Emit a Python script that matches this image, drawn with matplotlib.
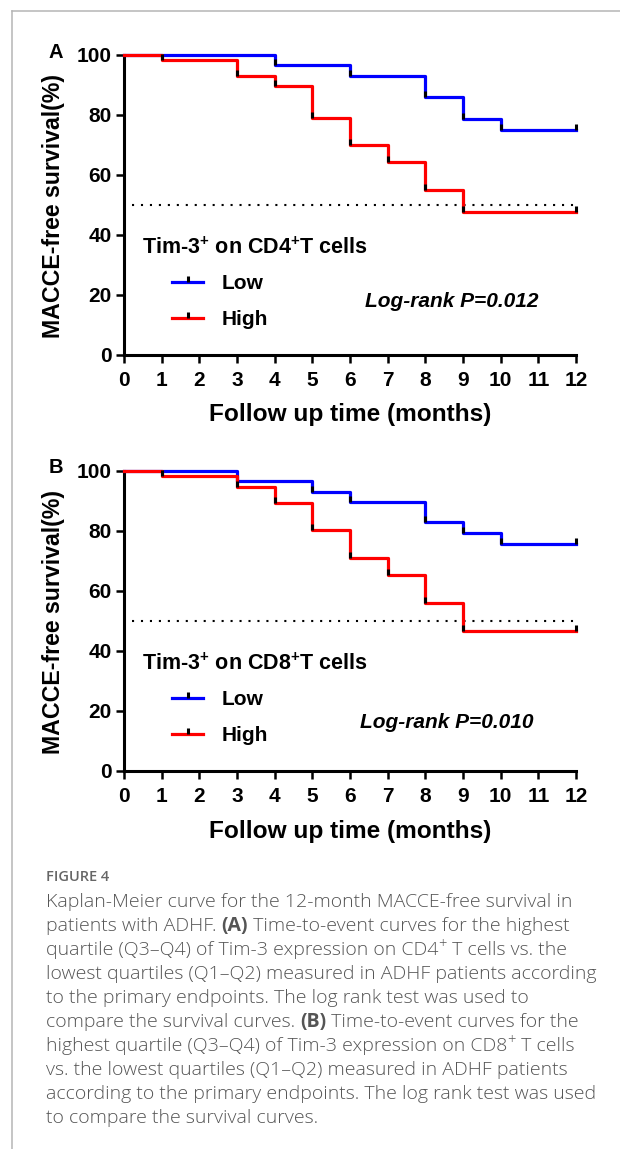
import matplotlib
matplotlib.use("Agg")
import matplotlib.pyplot as plt
from matplotlib.lines import Line2D

plt.rcParams['font.family'] = ['Liberation Sans', 'DejaVu Sans']
plt.rcParams['font.weight'] = 'bold'
plt.rcParams['mathtext.fontset'] = 'custom'
plt.rcParams['mathtext.rm'] = 'Liberation Sans:bold'
plt.rcParams['mathtext.bf'] = 'Liberation Sans:bold'
plt.rcParams['mathtext.it'] = 'Liberation Sans:bold:italic'

# Kaplan-Meier steps (time in months, survival in %)
a_low_t = [0, 4, 6, 8, 9, 10, 12]
a_low_s = [100, 96.6, 93.1, 86.0, 78.6, 75.1, 75.1]
a_high_t = [0, 1, 3, 4, 5, 6, 7, 8, 9, 12]
a_high_s = [100, 98.3, 93.1, 89.7, 79.0, 70.0, 64.3, 55.0, 47.8, 47.8]

b_low_t = [0, 3, 5, 6, 8, 9, 10, 12]
b_low_s = [100, 96.6, 93.0, 89.7, 82.8, 79.2, 75.7, 75.7]
b_high_t = [0, 1, 3, 4, 5, 6, 7, 8, 9, 12]
b_high_s = [100, 98.3, 94.6, 89.2, 80.1, 71.0, 65.3, 55.8, 46.6, 46.6]

panels = ['A', 'B']
cell_types = ['CD4', 'CD8']
p_values = ['0.012', '0.010']
group_labels = ['Low', 'High']
x_ticks = list(range(0, 13))
y_ticks = [0, 20, 40, 60, 80, 100]
median_line = 50

W, H = 620, 1149
fig = plt.figure(figsize=(W / 100, H / 100), dpi=100)

# upward tick = censor mark
tick_marker = [(0, 0), (0, 1)]


def km_panel(rect, low_t, low_s, high_t, high_s, cell, pval, letter, logrank_x, logrank_y):
    ax = fig.add_axes(rect)
    lines = []
    for t, s, c in [(low_t, low_s, '#0000ff'), (high_t, high_s, '#ff0000')]:
        ln, = ax.plot(t, s, drawstyle='steps-post', color=c, lw=2.3,
                      marker=tick_marker, markersize=8.5, markeredgewidth=2.2,
                      markeredgecolor='black', markevery=list(range(1, len(t))),
                      clip_on=False, zorder=3)
        lines.append(ln)
    ax.hlines(median_line, 0.2, 12, colors='black', lw=1.5,
              linestyles=(0, (1, 3.3)), zorder=2)

    ax.set_xlim(0, 12)
    ax.set_ylim(0, 100)
    ax.set_xticks(x_ticks)
    ax.set_yticks(y_ticks)
    for sp in ['top', 'right']:
        ax.spines[sp].set_visible(False)
    for sp in ['left', 'bottom']:
        ax.spines[sp].set_linewidth(2.2)
    ax.tick_params(axis='both', width=1.8, labelsize=15, color='black')
    ax.tick_params(axis='x', length=5.5, pad=6)
    ax.tick_params(axis='y', length=6, pad=3)
    for lab in ax.get_xticklabels() + ax.get_yticklabels():
        lab.set_fontweight('bold')

    ax.set_xlabel('Follow up time (months)', fontsize=17.6, fontweight='bold')
    ax.xaxis.set_label_coords(0.5, -0.2)
    ax.xaxis.label.set_verticalalignment('center')
    ax.set_ylabel('MACCE-free survival(%)', fontsize=16.7, fontweight='bold')
    ax.yaxis.set_label_coords(-0.155, 0.495)
    ax.yaxis.label.set_verticalalignment('center')

    ax.text(0.04, 0.355, 'Tim-3$^{+}$ on ' + cell + '$^{+}$T cells', transform=ax.transAxes,
            ha='left', va='center', fontsize=15.5, fontweight='bold')
    leg = ax.legend(lines, group_labels, loc='center left', bbox_to_anchor=(0.106, 0.178),
                    frameon=False, fontsize=15, handlelength=1.5, handletextpad=0.9,
                    labelspacing=0.8, borderpad=0, borderaxespad=0, numpoints=1)
    for t in leg.get_texts():
        t.set_fontweight('bold')
    ax.text(logrank_x, logrank_y, 'Log-rank P=' + pval, transform=ax.transAxes,
            ha='left', va='center', fontsize=15, fontweight='bold', fontstyle='italic')

    bb = ax.get_position()
    fig.text(56 / W, bb.y1 + 3 / H, letter, ha='center', va='center',
             fontsize=14.5, fontweight='bold')
    return ax


km_panel([124 / W, 1 - 355 / H, 452 / W, 300 / H], a_low_t, a_low_s, a_high_t, a_high_s,
         cell_types[0], p_values[0], panels[0], 0.533, 0.177)
km_panel([124 / W, 1 - 771 / H, 452 / W, 300.3 / H], b_low_t, b_low_s, b_high_t, b_high_s,
         cell_types[1], p_values[1], panels[1], 0.522, 0.163)

# page frame
fig.add_artist(Line2D([12.3 / W, 1], [1 - 10.7 / H] * 2, transform=fig.transFigure,
                      color='#b5b5b5', lw=1.1))
fig.add_artist(Line2D([12.3 / W] * 2, [1 - 10.7 / H, 0], transform=fig.transFigure,
                      color='#b5b5b5', lw=1.1))

# caption
cap_font = ['Open Sans', 'DejaVu Sans']
cap_color = '#555555'
fig.text(46 / W, 1 - 877 / H, 'FIGURE 4', ha='left', va='center', fontsize=10.5,
         color='#666666', family=cap_font, fontweight='semibold')

caption_lines = [
    [('Kaplan-Meier curve for the 12-month MACCE-free survival in', 'n')],
    [('patients with ADHF. ', 'n'), ('(A)', 'b'),
     (' Time-to-event curves for the highest', 'n')],
    [('quartile (Q3–Q4) of Tim-3 expression on CD4', 'n'), ('+', 's'),
     (' T cells vs. the', 'n')],
    [('lowest quartiles (Q1–Q2) measured in ADHF patients according', 'n')],
    [('to the primary endpoints. The log rank test was used to', 'n')],
    [('compare the survival curves. ', 'n'), ('(B)', 'b'),
     (' Time-to-event curves for the', 'n')],
    [('highest quartile (Q3–Q4) of Tim-3 expression on CD8', 'n'), ('+', 's'),
     (' T cells', 'n')],
    [('vs. the lowest quartiles (Q1–Q2) measured in ADHF patients', 'n')],
    [('according to the primary endpoints. The log rank test was used', 'n')],
    [('to compare the survival curves.', 'n')],
]

renderer = fig.canvas.get_renderer()
y_px = 902
for parts in caption_lines:
    x_fig = 46 / W
    for txt, kind in parts:
        size, wt, dy = 14, 'light', 0
        if kind == 'b':
            wt = 'bold'
        elif kind == 's':
            size, dy = 10.5, 5
        t = fig.text(x_fig, 1 - (y_px - dy) / H, txt, ha='left', va='center', fontsize=size,
                     color=cap_color, family=cap_font, fontweight=wt)
        ext = t.get_window_extent(renderer=renderer)
        x_fig = ext.x1 / W
    y_px += 24

fig.savefig('out.png', dpi=100)
